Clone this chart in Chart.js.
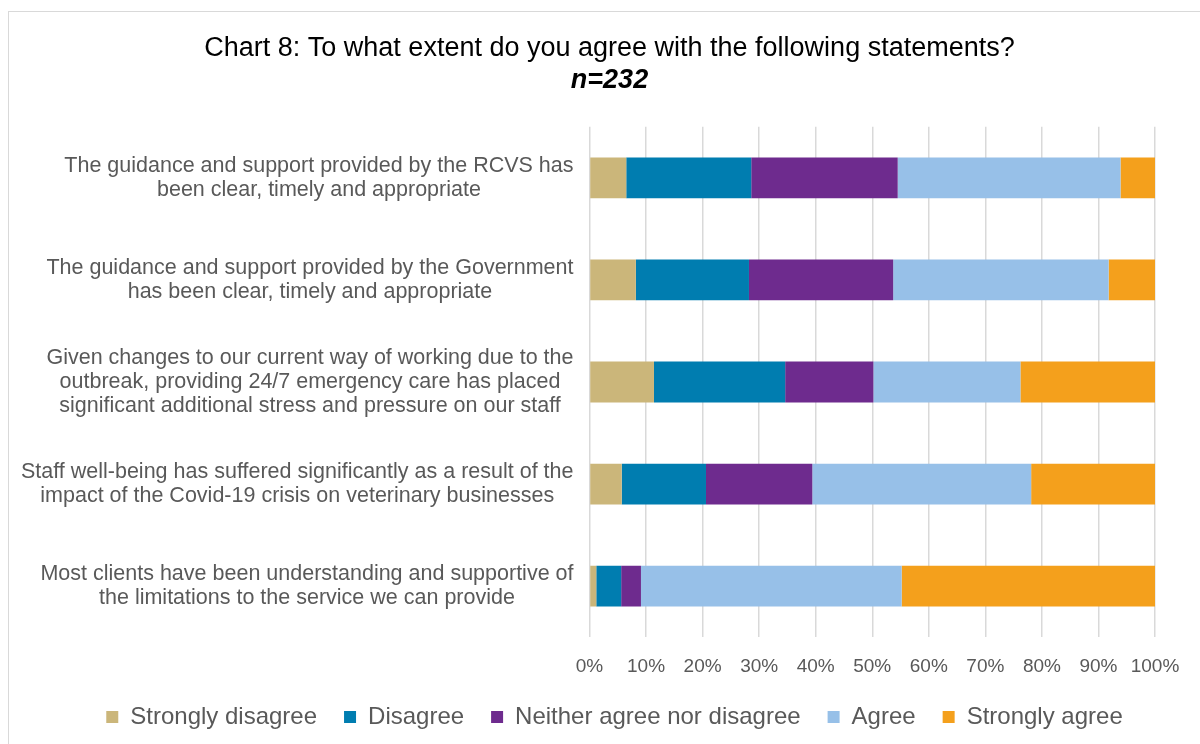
<!DOCTYPE html>
<html>
<head>
<meta charset="utf-8">
<script src="https://cdn.jsdelivr.net/npm/chart.js@4"></script>
<style>
  body { margin: 0; background: #fff; }
  #frame { position: absolute; left: 8px; top: 11px; width: 1300px; height: 800px; border: 1px solid #d9d9d9; }
  #wrap { position: absolute; left: 0; top: 0; width: 1200px; height: 744px; }
</style>
</head>
<body>
<div id="frame"></div>
<div id="wrap"><canvas id="c" width="1200" height="744"></canvas></div>
<script>
var statements = [
    ["The guidance and support provided by the RCVS has", "been clear, timely and appropriate"],
    ["The guidance and support provided by the Government", "has been clear, timely and appropriate"],
    ["Given changes to our current way of working due to the", "outbreak, providing 24/7 emergency care has placed", "significant additional stress and pressure on our staff"],
    ["Staff well-being has suffered significantly as a result of the", "impact of the Covid-19 crisis on veterinary businesses"],
    ["Most clients have been understanding and supportive of", "the limitations to the service we can provide"]
];
var stronglyDisagree = [6.5, 8.2, 11.4, 5.7, 1.2];
var disagree = [22.1, 20.0, 23.2, 14.9, 4.4];
var neither = [25.9, 25.5, 15.6, 18.8, 3.5];
var agree = [39.4, 38.1, 26.0, 38.7, 46.1];
var stronglyAgree = [6.1, 8.2, 23.8, 21.9, 44.8];

var grey = '#595959';
var fontFamily = '"Liberation Sans", Arial, sans-serif';
var labelSize = 21.5;
var labelLineHeight = 24;
Chart.defaults.font.family = fontFamily;

function ds(label, values, color) {
    return {
        label: label,
        data: values,
        backgroundColor: color,
        borderWidth: 0,
        barPercentage: 0.4,
        categoryPercentage: 1
    };
}

// Excel look: title/legend centred on the whole frame, labels right-aligned as a block with centred lines
var tweaks = {
    id: 'tweaks',
    afterLayout: function (chart) {
        chart.boxes.forEach(function (b) {
            if (b.position === 'top' && b.options && typeof b.options.text === 'string') {
                b.left += 20;
                b.right += 20;
            }
        });
        var lg = chart.legend;
        lg.left += 25;
        lg.right += 25;
        lg.top -= 18;
        lg.bottom -= 18;
    },
    afterDraw: function (chart) {
        var scale = chart.scales.y;
        var c = chart.ctx;
        c.save();
        c.font = labelSize + 'px ' + fontFamily;
        c.fillStyle = grey;
        c.textAlign = 'center';
        c.textBaseline = 'middle';
        var right = scale.right - 16;
        statements.forEach(function (lines, i) {
            var w = 0;
            lines.forEach(function (l) { w = Math.max(w, c.measureText(l).width); });
            var cx = right - w / 2;
            var y0 = scale.getPixelForTick(i) - (lines.length - 1) * labelLineHeight / 2;
            lines.forEach(function (l, k) { c.fillText(l, cx, y0 + k * labelLineHeight); });
        });
        c.restore();
    }
};

var ctx = document.getElementById('c').getContext('2d');
var chart = new Chart(ctx, {
    type: 'bar',
    data: {
        labels: statements,
        datasets: [
            ds('Strongly disagree', stronglyDisagree, '#CBB67A'),
            ds('Disagree', disagree, '#007DB0'),
            ds('Neither agree nor disagree', neither, '#6E2B8E'),
            ds('Agree', agree, '#97C0E8'),
            ds('Strongly agree', stronglyAgree, '#F4A01C')
        ]
    },
    options: {
        indexAxis: 'y',
        responsive: false,
        animation: false,
        layout: { padding: { left: 24, right: 45, top: 32, bottom: -13 } },
        scales: {
            x: {
                stacked: true,
                min: 0,
                max: 100,
                ticks: {
                    stepSize: 10,
                    color: grey,
                    font: { size: 19 },
                    padding: 18,
                    callback: function (v) { return v + '%'; }
                },
                grid: { color: '#d9d9d9', lineWidth: 1.5, drawTicks: false },
                border: { display: false }
            },
            y: {
                stacked: true,
                ticks: {
                    color: 'rgba(0,0,0,0)',
                    font: { size: labelSize, lineHeight: labelLineHeight / labelSize },
                    padding: 16
                },
                grid: { display: false, drawTicks: false },
                border: { display: false }
            }
        },
        plugins: {
            title: {
                display: true,
                text: 'Chart 8: To what extent do you agree with the following statements?',
                color: '#000',
                font: { size: 27, weight: 'normal' },
                padding: { top: 0, bottom: 0 }
            },
            subtitle: {
                display: true,
                text: 'n=232',
                color: '#000',
                font: { size: 27, weight: 'bold', style: 'italic' },
                padding: { top: 0, bottom: 30 }
            },
            legend: {
                position: 'bottom',
                labels: {
                    color: grey,
                    font: { size: 24 },
                    boxWidth: 12,
                    boxHeight: 12,
                    padding: 27
                }
            },
            tooltip: { enabled: false }
        }
    },
    plugins: [tweaks]
});
</script>
</body>
</html>
